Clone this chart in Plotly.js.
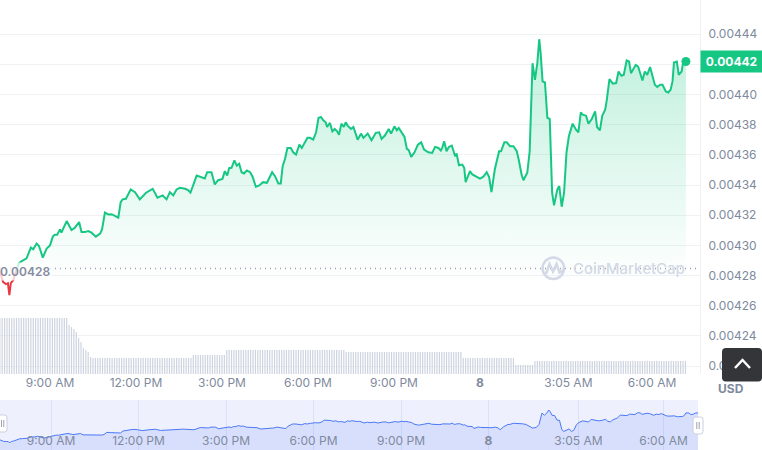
<!DOCTYPE html>
<html><head><meta charset="utf-8">
<script src="https://cdn.plot.ly/plotly-3.0.1.min.js"></script>
<style>html,body{margin:0;padding:0;background:#fff;}#chart{width:762px;height:450px;}</style>
</head><body><div id="chart"></div>
<script>
// ---------- DATA ----------
const priceTimes = [
 '2024-05-07 07:15','2024-05-07 07:22','2024-05-07 07:28','2024-05-07 07:32','2024-05-07 07:35','2024-05-07 07:38','2024-05-07 07:43','2024-05-07 07:49','2024-05-07 07:55','2024-05-07 08:01','2024-05-07 08:08','2024-05-07 08:11','2024-05-07 08:20','2024-05-07 08:25','2024-05-07 08:32','2024-05-07 08:37','2024-05-07 08:45','2024-05-07 08:53',
 '2024-05-07 09:00','2024-05-07 09:06','2024-05-07 09:10','2024-05-07 09:15','2024-05-07 09:21','2024-05-07 09:24','2024-05-07 09:28','2024-05-07 09:35','2024-05-07 09:45','2024-05-07 09:52',
 '2024-05-07 10:01','2024-05-07 10:06','2024-05-07 10:13','2024-05-07 10:20','2024-05-07 10:27','2024-05-07 10:36','2024-05-07 10:45','2024-05-07 10:49',
 '2024-05-07 10:55','2024-05-07 11:02','2024-05-07 11:09','2024-05-07 11:16','2024-05-07 11:23','2024-05-07 11:28','2024-05-07 11:32','2024-05-07 11:39','2024-05-07 11:49','2024-05-07 11:58',
 '2024-05-07 12:08','2024-05-07 12:21','2024-05-07 12:35','2024-05-07 12:45','2024-05-07 12:56','2024-05-07 13:04','2024-05-07 13:11','2024-05-07 13:18','2024-05-07 13:25','2024-05-07 13:32','2024-05-07 13:43','2024-05-07 13:49','2024-05-07 13:54',
 '2024-05-07 14:07','2024-05-07 14:14','2024-05-07 14:24','2024-05-07 14:29','2024-05-07 14:38','2024-05-07 14:45','2024-05-07 14:52',
 '2024-05-07 15:01','2024-05-07 15:06','2024-05-07 15:11','2024-05-07 15:15','2024-05-07 15:20','2024-05-07 15:26','2024-05-07 15:31','2024-05-07 15:36','2024-05-07 15:41','2024-05-07 15:46','2024-05-07 15:52','2024-05-07 15:59',
 '2024-05-07 16:04','2024-05-07 16:11','2024-05-07 16:18','2024-05-07 16:26','2024-05-07 16:34','2024-05-07 16:38','2024-05-07 16:45','2024-05-07 16:51','2024-05-07 16:58',
 '2024-05-07 17:03','2024-05-07 17:07','2024-05-07 17:12','2024-05-07 17:17','2024-05-07 17:24','2024-05-07 17:29','2024-05-07 17:35','2024-05-07 17:42','2024-05-07 17:47','2024-05-07 17:54','2024-05-07 17:59',
 '2024-05-07 18:04','2024-05-07 18:11','2024-05-07 18:17','2024-05-07 18:22','2024-05-07 18:27','2024-05-07 18:32','2024-05-07 18:37','2024-05-07 18:40','2024-05-07 18:46','2024-05-07 18:51','2024-05-07 18:56',
 '2024-05-07 19:01','2024-05-07 19:05','2024-05-07 19:10','2024-05-07 19:15','2024-05-07 19:19','2024-05-07 19:23','2024-05-07 19:30','2024-05-07 19:35','2024-05-07 19:44','2024-05-07 19:51','2024-05-07 19:56',
 '2024-05-07 20:05','2024-05-07 20:13','2024-05-07 20:22','2024-05-07 20:29','2024-05-07 20:34','2024-05-07 20:41','2024-05-07 20:49','2024-05-07 20:54',
 '2024-05-07 21:01','2024-05-07 21:06','2024-05-07 21:10','2024-05-07 21:15','2024-05-07 21:22','2024-05-07 21:27','2024-05-07 21:31','2024-05-07 21:36','2024-05-07 21:43','2024-05-07 21:50','2024-05-07 21:57',
 '2024-05-07 22:03','2024-05-07 22:12','2024-05-07 22:20','2024-05-07 22:26','2024-05-07 22:33','2024-05-07 22:38','2024-05-07 22:41','2024-05-07 22:45','2024-05-07 22:50','2024-05-07 22:55',
 '2024-05-07 23:01','2024-05-07 23:08','2024-05-07 23:11','2024-05-07 23:16','2024-05-07 23:23','2024-05-07 23:27','2024-05-07 23:30','2024-05-07 23:39','2024-05-07 23:44','2024-05-07 23:53',
 '2024-05-08 00:00','2024-05-08 00:07','2024-05-08 00:14','2024-05-08 00:19','2024-05-08 00:24','2024-05-08 00:31','2024-05-08 00:40','2024-05-08 00:44','2024-05-08 00:51','2024-05-08 00:56',
 '2024-05-08 01:03','2024-05-08 01:10','2024-05-08 01:17','2024-05-08 01:21','2024-05-08 01:27','2024-05-08 01:31','2024-05-08 01:39','2024-05-08 01:44','2024-05-08 01:50','2024-05-08 01:55',
 '2024-05-08 02:00','2024-05-08 02:04','2024-05-08 02:07','2024-05-08 02:11','2024-05-08 02:16','2024-05-08 02:21','2024-05-08 02:26','2024-05-08 02:31','2024-05-08 02:35','2024-05-08 02:42','2024-05-08 02:46','2024-05-08 02:51','2024-05-08 02:56',
 '2024-05-08 03:01','2024-05-08 03:06','2024-05-08 03:14','2024-05-08 03:21','2024-05-08 03:26','2024-05-08 03:31','2024-05-08 03:35','2024-05-08 03:42','2024-05-08 03:47','2024-05-08 03:54',
 '2024-05-08 04:01','2024-05-08 04:05','2024-05-08 04:11','2024-05-08 04:16','2024-05-08 04:22','2024-05-08 04:25','2024-05-08 04:31','2024-05-08 04:38','2024-05-08 04:45','2024-05-08 04:50','2024-05-08 04:56',
 '2024-05-08 05:01','2024-05-08 05:07','2024-05-08 05:12','2024-05-08 05:16','2024-05-08 05:21','2024-05-08 05:26','2024-05-08 05:31','2024-05-08 05:36','2024-05-08 05:40','2024-05-08 05:45','2024-05-08 05:50','2024-05-08 05:56',
 '2024-05-08 06:01','2024-05-08 06:06','2024-05-08 06:11','2024-05-08 06:17','2024-05-08 06:22','2024-05-08 06:29','2024-05-08 06:34','2024-05-08 06:39','2024-05-08 06:43','2024-05-08 06:46','2024-05-08 06:52','2024-05-08 06:56',
 '2024-05-08 07:02','2024-05-08 07:05','2024-05-08 07:11'
];
const prices = [
 0.0042829,0.0042756,0.0042743,0.0042749,0.0042670,0.0042749,0.0042769,0.0042829,0.0042882,0.0042895,0.0042908,0.0042914,0.0042985,0.0042974,0.0043012,0.0042996,0.0042919,0.0042979,
 0.0043000,0.0043058,0.0043071,0.0043071,0.0043106,0.0043084,0.0043113,0.0043161,0.0043102,0.0043117,
 0.0043155,0.0043088,0.0043088,0.0043095,0.0043084,0.0043058,0.0043078,0.0043106,
 0.0043217,0.0043205,0.0043207,0.0043194,0.0043184,0.0043287,0.0043305,0.0043309,0.0043371,0.0043353,
 0.0043305,0.0043349,0.0043375,0.0043316,0.0043331,0.0043305,0.0043353,0.0043331,0.0043371,0.0043382,0.0043375,0.0043366,0.0043349,
 0.0043463,0.0043455,0.0043443,0.0043485,0.0043485,0.0043404,0.0043432,
 0.0043441,0.0043492,0.0043463,0.0043512,0.0043514,0.0043564,0.0043529,0.0043541,0.0043485,0.0043477,0.0043496,0.0043485,
 0.0043455,0.0043389,0.0043397,0.0043419,0.0043415,0.0043441,0.0043485,0.0043459,0.0043410,
 0.0043410,0.0043525,0.0043574,0.0043646,0.0043646,0.0043617,0.0043602,0.0043668,0.0043646,0.0043683,0.0043713,
 0.0043713,0.0043701,0.0043750,0.0043845,0.0043851,0.0043829,0.0043816,0.0043785,0.0043812,0.0043756,0.0043772,
 0.0043756,0.0043734,0.0043807,0.0043785,0.0043816,0.0043794,0.0043772,0.0043785,0.0043701,0.0043741,0.0043713,
 0.0043741,0.0043697,0.0043746,0.0043750,0.0043706,0.0043728,0.0043772,0.0043741,
 0.0043789,0.0043763,0.0043779,0.0043756,0.0043719,0.0043640,0.0043631,0.0043587,0.0043617,0.0043668,0.0043683,
 0.0043635,0.0043617,0.0043613,0.0043653,0.0043646,0.0043629,0.0043646,0.0043690,0.0043624,0.0043653,
 0.0043662,0.0043591,0.0043609,0.0043531,0.0043536,0.0043514,0.0043419,0.0043492,0.0043470,0.0043455,
 0.0043443,0.0043455,0.0043485,0.0043455,0.0043353,0.0043503,0.0043624,0.0043624,0.0043683,0.0043683,
 0.0043657,0.0043657,0.0043624,0.0043569,0.0043470,0.0043432,0.0043481,0.0043624,0.0044208,0.0044098,
 0.0044208,0.0044367,0.0044275,0.0044087,0.0044080,0.0043845,0.0043838,0.0043349,0.0043265,0.0043371,0.0043393,0.0043256,0.0043349,
 0.0043613,0.0043723,0.0043807,0.0043767,0.0043750,0.0043882,0.0043867,0.0043860,0.0043807,0.0043838,
 0.0043889,0.0043785,0.0043763,0.0043860,0.0043900,0.0043955,0.0044103,0.0044072,0.0044076,0.0044153,0.0044125,
 0.0044131,0.0044226,0.0044219,0.0044142,0.0044175,0.0044197,0.0044186,0.0044131,0.0044093,0.0044153,0.0044131,0.0044182,
 0.0044120,0.0044065,0.0044050,0.0044065,0.0044065,0.0044021,0.0044014,0.0044032,0.0044087,0.0044212,0.0044219,0.0044131,
 0.0044153,0.0044208,0.0044219
];
const openPrice = 0.0042846;

// volume bars: one per 5-minute interval starting at volStart
const volStart = '2024-05-07 07:15';
const volStepMinutes = 5;
const volumes = [
 56,56,56,56,56,56,56,56,56,56,
 56,56,56,56,56,56,56,56,56,56,
 56,56,56,56,56,56,56,56,56,
 49,47,45,42,36,32,26,24,22,17,16,
 16,16,16,16,16,16,16,16,16,16,
 16,16,16,16,16,16,16,16,16,16,
 16,16,16,16,16,16,16,16,16,16,
 16,16,16,16,16,16,16,16,16,16,
 16,
 19,19,19,19,19,19,19,19,19,19,19,19,19,19,
 24,24,24,24,24,24,24,24,24,24,
 24,24,24,24,24,24,24,24,24,24,
 24,24,24,24,24,24,24,24,24,24,
 24,24,24,24,24,24,24,24,24,24,
 24,24,24,24,24,24,24,24,24,24,
 22,22,22,22,22,22,22,22,22,22,
 22,22,22,22,22,22,22,22,22,22,
 22,22,22,22,22,22,22,22,22,22,
 22,22,22,22,22,22,22,22,22,22,
 22,22,22,22,22,22,22,22,22,
 16,16,16,16,16,16,16,16,16,16,
 16,16,16,16,16,16,16,16,16,16,
 16,16,
 9,9,9,9,9,9,9,9,
 13,13,13,13,13,13,13,13,13,13,
 13,13,13,13,13,13,13,13,13,13,
 13,13,13,13,13,13,13,13,13,13,
 13,13,13,13,13,13,13,13,13,13,
 13,13,13,13,13,13,13,13,13,13,
 13,13,13,13,13,13,13,13,13,13,
 13,13,13,13
];

const xTickVals = ['2024-05-07 09:00','2024-05-07 12:00','2024-05-07 15:00','2024-05-07 18:00','2024-05-07 21:00','2024-05-08 00:00','2024-05-08 03:05','2024-05-08 06:00'];
const xTickText = ['9:00 AM','12:00 PM','3:00 PM','6:00 PM','9:00 PM','<b>8</b>','3:05 AM','6:00 AM'];
const yTickVals = [0.00422,0.00424,0.00426,0.00428,0.00430,0.00432,0.00434,0.00436,0.00438,0.00440,0.00442,0.00444];
// the 0.00442 tick label sits under the current-price tag in the reference
const yTickText = ['0.00422','0.00424','0.00426','0.00428','0.00430','0.00432','0.00434','0.00436','0.00438','0.00440','','0.00444'];

// ---------- BUILD ----------
function addMin(str, m){
  const d = new Date(str.replace(' ','T') + ':00Z');
  d.setUTCMinutes(d.getUTCMinutes() + m);
  return d.toISOString().slice(0,16).replace('T',' ');
}
const volTimes = volumes.map((v,i) => addMin(volStart, i*volStepMinutes));

let split = prices.findIndex(p => p > openPrice);
const n = prices.length;
const lastT = priceTimes[n-1], lastP = prices[n-1];

const GREEN = '#16c784', RED = '#ea3943', GRAY = '#808a9d';
const PW = 700, PH = 450;
const px = x => x / PW, py = y => 1 - y / PH;
const P = (x,y) => px(x) + ',' + py(y);
function roundRect(x0,y0,x1,y1,r){
  return 'M' + P(x0+r,y0) + ' L' + P(x1-r,y0) + ' Q' + P(x1,y0) + ' ' + P(x1,y0+r) +
    ' L' + P(x1,y1-r) + ' Q' + P(x1,y1) + ' ' + P(x1-r,y1) +
    ' L' + P(x0+r,y1) + ' Q' + P(x0,y1) + ' ' + P(x0,y1-r) +
    ' L' + P(x0,y0+r) + ' Q' + P(x0,y0) + ' ' + P(x0+r,y0) + ' Z';
}

const traces = [
  { // red part (below open)
    x: priceTimes.slice(0, split), y: prices.slice(0, split),
    type: 'scatter', mode: 'lines', line: {color: RED, width: 2}, xaxis: 'x', yaxis: 'y', hoverinfo: 'skip'
  },
  { // green part
    x: priceTimes.slice(split-1), y: prices.slice(split-1),
    type: 'scatter', mode: 'lines', line: {color: GREEN, width: 2},
    fill: 'tozeroy',
    fillgradient: {type: 'vertical', start: 0.004276, stop: 0.00444,
      colorscale: [[0, 'rgba(22,199,132,0)'], [1, 'rgba(22,199,132,0.28)']]},
    xaxis: 'x', yaxis: 'y', hoverinfo: 'skip'
  },
  { // end dot
    x: [lastT], y: [lastP], type: 'scatter', mode: 'markers',
    marker: {color: GREEN, size: 9}, xaxis: 'x', yaxis: 'y', hoverinfo: 'skip'
  },
  { // volume
    x: volTimes, y: volumes, type: 'bar', width: 150000,
    marker: {color: '#cdd3df', line: {width: 0}}, xaxis: 'x', yaxis: 'y2', hoverinfo: 'skip'
  },
  { // navigator
    x: priceTimes, y: prices, type: 'scatter', mode: 'lines',
    line: {color: '#4a78f5', width: 1}, fill: 'tozeroy', fillcolor: 'rgba(56,97,251,0.12)',
    xaxis: 'x2', yaxis: 'y3', hoverinfo: 'skip'
  }
];

const fontFam = 'Inter, "Open Sans", sans-serif';
const layout = {
  width: 762, height: 450,
  margin: {l: 0, r: 62, t: 0, b: 0, pad: 0},
  paper_bgcolor: '#ffffff', plot_bgcolor: 'rgba(0,0,0,0)',
  showlegend: false,
  font: {family: fontFam, size: 12, color: GRAY},
  xaxis: {
    type: 'date', domain: [0, 1], anchor: 'y',
    range: ['2024-05-07 07:15:24', '2024-05-08 07:40:30'],
    showgrid: false, zeroline: false, showline: false, ticks: '',
    tickmode: 'array', tickvals: xTickVals, ticktext: xTickText,
    tickfont: {family: fontFam, size: 12, color: GRAY}, fixedrange: true
  },
  yaxis: {
    domain: [76/450, 1], anchor: 'x', side: 'right',
    range: [0.0042147, 0.0044627],
    showgrid: true, gridcolor: '#eff2f5', gridwidth: 1,
    showline: true, linecolor: '#eff2f5', linewidth: 1,
    zeroline: false, ticks: '', ticklabelstandoff: 5,
    tickmode: 'array', tickvals: yTickVals, ticktext: yTickText,
    tickfont: {family: fontFam, size: 12, color: GRAY}, fixedrange: true
  },
  yaxis2: {
    overlaying: 'y', anchor: 'x', range: [0, 374], visible: false, fixedrange: true
  },
  xaxis2: {
    type: 'date', domain: [0, 698/700], anchor: 'y3',
    range: [priceTimes[0], lastT],
    showgrid: true, gridcolor: '#dbe2f8', zeroline: false, showline: false, ticks: '',
    tickmode: 'array', tickvals: xTickVals, ticktext: xTickText,
    ticklabelposition: 'inside',
    tickfont: {family: fontFam, size: 12, color: GRAY}, fixedrange: true
  },
  yaxis3: {
    domain: [0, 50/450], anchor: 'x2', range: [0.004231, 0.004488], visible: false, fixedrange: true
  },
  shapes: [
    {type: 'rect', xref: 'paper', yref: 'paper', x0: 0, x1: px(698), y0: py(450), y1: py(400),
     fillcolor: '#eef1fd', line: {width: 0}, layer: 'below'},
    {type: 'line', xref: 'paper', yref: 'y', x0: 0, x1: px(697), y0: openPrice, y1: openPrice,
     line: {color: '#9aa1b3', width: 1.5, dash: '1px,4px'}},
    {type: 'circle', xref: 'paper', yref: 'paper', x0: px(542.6), x1: px(564), y0: py(279), y1: py(257.6),
     line: {color: '#d3d9e6', width: 2.5}},
    {type: 'path', xref: 'paper', yref: 'paper',
     path: 'M' + P(546,274) + ' L' + P(549.5,264) + ' L' + P(553,271.5) + ' L' + P(556.5,264) + ' L' + P(559.5,272.5) + ' L' + P(564,269.5),
     line: {color: '#d3d9e6', width: 2.5}},
    {type: 'path', xref: 'paper', yref: 'paper', path: roundRect(722, 348, 762, 381.5, 4),
     fillcolor: '#333538', line: {width: 0}},
    {type: 'path', xref: 'paper', yref: 'paper',
     path: 'M' + P(735,368) + ' L' + P(742.5,360) + ' L' + P(750,368),
     line: {color: '#ffffff', width: 2.5}},
    {type: 'path', xref: 'paper', yref: 'paper', path: roundRect(-4, 415, 7, 432, 2.5),
     fillcolor: '#ffffff', line: {color: '#c9cfdc', width: 1}},
    {type: 'line', xref: 'paper', yref: 'paper', x0: px(1.5), x1: px(1.5), y0: py(420), y1: py(427), line: {color: '#9aa0b0', width: 1}},
    {type: 'line', xref: 'paper', yref: 'paper', x0: px(3.8), x1: px(3.8), y0: py(420), y1: py(427), line: {color: '#9aa0b0', width: 1}},
    {type: 'path', xref: 'paper', yref: 'paper', path: roundRect(693, 417, 703, 434, 2.5),
     fillcolor: '#ffffff', line: {color: '#c9cfdc', width: 1}},
    {type: 'line', xref: 'paper', yref: 'paper', x0: px(696.8), x1: px(696.8), y0: py(422), y1: py(429), line: {color: '#9aa0b0', width: 1}},
    {type: 'line', xref: 'paper', yref: 'paper', x0: px(699.2), x1: px(699.2), y0: py(422), y1: py(429), line: {color: '#9aa0b0', width: 1}}
  ],
  annotations: [
    {xref: 'paper', yref: 'y', x: 1, y: lastP, xanchor: 'left', yanchor: 'middle',
     text: '<b>' + lastP.toFixed(5) + '</b>', showarrow: false,
     font: {family: fontFam, size: 12, color: '#ffffff'},
     bgcolor: GREEN, borderpad: 3, width: 55, align: 'center'},
    {xref: 'paper', yref: 'y', x: 0, y: openPrice, xanchor: 'left', yanchor: 'middle', yshift: -3, xshift: -2,
     text: openPrice.toFixed(5), showarrow: false,
     font: {family: fontFam, size: 12, color: '#858ca0', weight: 600},
     bgcolor: 'rgba(255,255,255,0.75)', borderpad: 1},
    {xref: 'paper', yref: 'paper', x: px(571), y: py(268.5), xanchor: 'left', yanchor: 'middle',
     text: 'CoinMarketCap', showarrow: false,
     font: {family: fontFam, size: 15, color: '#d3d9e6', weight: 500}},
    {xref: 'paper', yref: 'paper', x: px(731), y: py(388), xanchor: 'center', yanchor: 'middle',
     text: '<b>USD</b>', showarrow: false,
     font: {family: fontFam, size: 12, color: GRAY}}
  ]
};

Plotly.newPlot('chart', traces, layout, {staticPlot: true, displayModeBar: false});
</script>
</body></html>
